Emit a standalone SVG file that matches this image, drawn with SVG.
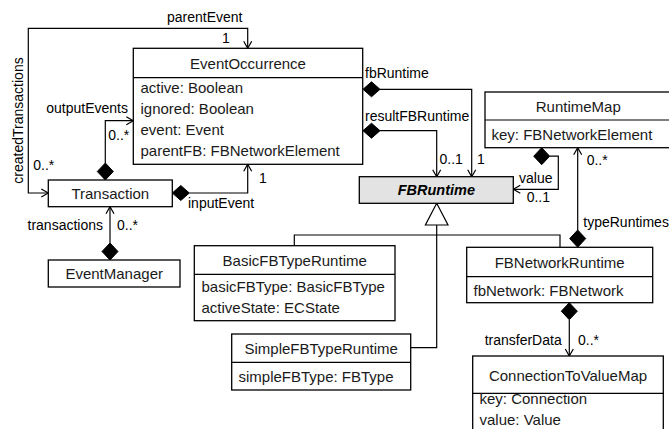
<svg xmlns="http://www.w3.org/2000/svg" width="669" height="429" viewBox="0 0 669 429">
<style>
  .box{fill:#fff;stroke:#000;stroke-width:1.3}
  .abs{fill:#e3e3e3;stroke:#000;stroke-width:1.3}
  .sep{stroke:#000;stroke-width:1.2}
  .t{font-family:"Liberation Sans",Arial,sans-serif;font-size:15px;fill:#1a1a1a;dominant-baseline:central}
  .c{text-anchor:middle}
  .lb{font-family:"Liberation Sans",Arial,sans-serif;font-size:14px;fill:#000;dominant-baseline:central}
  .e{text-anchor:end}
  .ab{font-family:"Liberation Sans",Arial,sans-serif;font-size:14.5px;font-weight:bold;font-style:italic;text-anchor:middle;dominant-baseline:central}
  .ln{fill:none;stroke:#000;stroke-width:1.2}
  .dia{fill:#000;stroke:#000;stroke-width:1}
  .gen{fill:#fff;stroke:#000;stroke-width:1.2}
</style>
<defs>
  <marker id="arr" markerUnits="userSpaceOnUse" markerWidth="12" markerHeight="12" viewBox="-8 -6 10 12" refX="0" refY="0" orient="auto-start-reverse">
    <path d="M-7,-4 L0,0 L-7,4" fill="none" stroke="#000" stroke-width="1.2"/>
  </marker>
</defs>

<g id="connectors">
  <!-- parentEvent / createdTransactions -->
  <path class="ln" d="M48.3,193 H28.3 V28.3 H247.7 V48.3" marker-start="url(#arr)" marker-end="url(#arr)"/>
  <!-- outputEvents -->
  <path class="ln" d="M105.3,163 V120.7 H133.3" marker-end="url(#arr)"/>
  <polygon class="dia" points="105.3,163 113.3,171.5 105.3,180 97.3,171.5"/>
  <!-- inputEvent -->
  <path class="ln" d="M189.3,193 H247.7 V164.3" marker-end="url(#arr)"/>
  <polygon class="dia" points="172.3,193 180.8,185.5 189.3,193 180.8,200.5"/>
  <!-- transactions -->
  <path class="ln" d="M110,243 V206.7" marker-end="url(#arr)"/>
  <polygon class="dia" points="110,243 118,251.5 110,260 102,251.5"/>
  <!-- fbRuntime -->
  <path class="ln" d="M380,89.3 H471.7 V176.7" marker-end="url(#arr)"/>
  <polygon class="dia" points="363,89.3 371.5,81.8 380,89.3 371.5,96.8"/>
  <!-- resultFBRuntime -->
  <path class="ln" d="M380,130.7 H436.7 V176.7" marker-end="url(#arr)"/>
  <polygon class="dia" points="363,130.7 371.5,123.2 380,130.7 371.5,138.2"/>
  <!-- value -->
  <path class="ln" d="M549.7,156.2 H558.3 V189.3 H513.3" marker-end="url(#arr)"/>
  <polygon class="dia" points="541.7,147.7 549.7,156.2 541.7,164.7 533.7,156.2"/>
  <!-- typeRuntimes -->
  <path class="ln" d="M577.7,230 V147.7" marker-end="url(#arr)"/>
  <polygon class="dia" points="577.7,230 585.7,238.6 577.7,247.3 569.7,238.6"/>
  <!-- transferData -->
  <path class="ln" d="M569.3,319.7 V356" marker-end="url(#arr)"/>
  <polygon class="dia" points="569.3,302.7 577.3,311.2 569.3,319.7 561.3,311.2"/>
  <!-- generalization -->
  <path class="ln" d="M436.7,225 V347.7 H410.7"/>
  <path class="ln" d="M294.3,245.7 V235 H560 V247.3"/>
  <polygon class="gen" points="436.7,203.3 448,225 425.4,225"/>

  <!-- labels -->
  <text class="lb c" x="204.7" y="17.3">parentEvent</text>
  <text class="lb" x="222" y="38">1</text>
  <text class="lb c" transform="translate(18,120.5) rotate(-90)">createdTransactions</text>
  <text class="lb" x="33.3" y="165">0..*</text>
  <text class="lb e" x="128" y="108">outputEvents</text>
  <text class="lb" x="108.3" y="135">0..*</text>
  <text class="lb" x="259" y="178">1</text>
  <text class="lb" x="188" y="203">inputEvent</text>
  <text class="lb e" x="103" y="225">transactions</text>
  <text class="lb" x="117" y="225">0..*</text>
  <text class="lb" x="365" y="72.7">fbRuntime</text>
  <text class="lb" x="365" y="116">resultFBRuntime</text>
  <text class="lb" x="439.5" y="159.3">0..1</text>
  <text class="lb" x="477" y="159.3">1</text>
  <text class="lb" x="519" y="178.3">value</text>
  <text class="lb" x="526.7" y="196.7">0..1</text>
  <text class="lb" x="586.7" y="160">0..*</text>
  <text class="lb" x="583.3" y="221.7">typeRuntimes</text>
  <text class="lb e" x="561.7" y="340">transferData</text>
  <text class="lb" x="578" y="340">0..*</text>
</g>

<g id="EventOccurrence">
  <rect class="box" x="133.3" y="48.3" width="229.4" height="116"/>
  <line class="sep" x1="133.3" y1="77.7" x2="362.7" y2="77.7"/>
  <text class="t c" x="248" y="63.5">EventOccurrence</text>
  <text class="t" x="140.5" y="87.5">active: Boolean</text>
  <text class="t" x="140.5" y="108.5">ignored: Boolean</text>
  <text class="t" x="140.5" y="129.5">event: Event</text>
  <text class="t" x="140.5" y="150.5">parentFB: FBNetworkElement</text>
</g>

<g id="Transaction">
  <rect class="box" x="48.3" y="180" width="124" height="26.7"/>
  <text class="t c" x="110.3" y="193.3">Transaction</text>
</g>

<g id="EventManager">
  <rect class="box" x="48.3" y="260" width="131.7" height="27"/>
  <text class="t c" x="114.2" y="273.5">EventManager</text>
</g>

<g id="FBRuntime">
  <rect class="abs" x="359.3" y="176.7" width="154" height="26.6"/>
  <text class="ab" x="436.3" y="190">FBRuntime</text>
</g>

<g id="RuntimeMap">
  <rect class="box" x="485" y="92" width="190" height="55.7"/>
  <line class="sep" x1="485" y1="120" x2="675" y2="120"/>
  <text class="t c" x="578.3" y="106">RuntimeMap</text>
  <text class="t" x="491.5" y="134">key: FBNetworkElement</text>
</g>

<g id="BasicFBTypeRuntime">
  <rect class="box" x="194.3" y="245.7" width="200.7" height="75"/>
  <line class="sep" x1="194.3" y1="274.3" x2="395" y2="274.3"/>
  <text class="t c" x="294.7" y="260">BasicFBTypeRuntime</text>
  <text class="t" x="201.5" y="286.5">basicFBType: BasicFBType</text>
  <text class="t" x="201.5" y="307.5">activeState: ECState</text>
</g>

<g id="SimpleFBTypeRuntime">
  <rect class="box" x="231.7" y="334" width="179" height="56"/>
  <line class="sep" x1="231.7" y1="362.3" x2="410.7" y2="362.3"/>
  <text class="t c" x="321.2" y="348.5">SimpleFBTypeRuntime</text>
  <text class="t" x="238.5" y="376">simpleFBType: FBType</text>
</g>

<g id="FBNetworkRuntime">
  <rect class="box" x="466.7" y="247.3" width="186" height="55.4"/>
  <line class="sep" x1="466.7" y1="276.7" x2="652.7" y2="276.7"/>
  <text class="t c" x="559.7" y="262.5">FBNetworkRuntime</text>
  <text class="t" x="473.5" y="290.5">fbNetwork: FBNetwork</text>
</g>

<g id="ConnectionToValueMap">
  <rect class="box" x="472.7" y="356" width="190.6" height="80"/>
  <line class="sep" x1="472.7" y1="393.3" x2="663.3" y2="393.3"/>
  <text class="t c" x="568" y="375">ConnectionToValueMap</text>
  <text class="t" x="479.5" y="398">key: Connection</text>
  <text class="t" x="479.5" y="419">value: Value</text>
</g>
</svg>
